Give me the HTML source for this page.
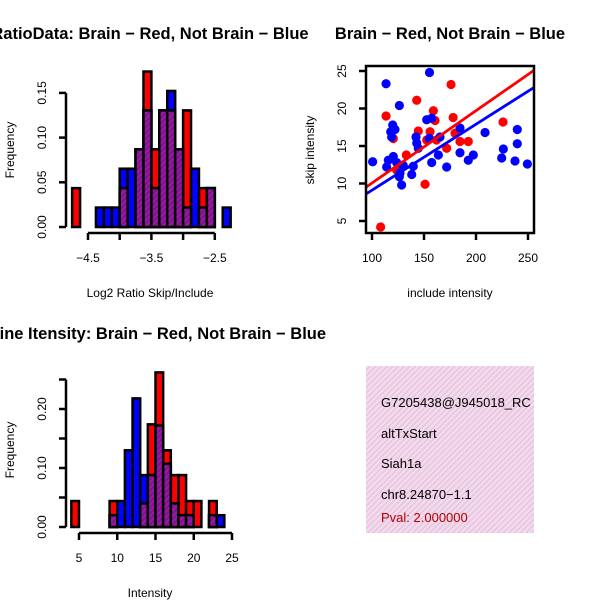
<!DOCTYPE html>
<html><head><meta charset="utf-8"><style>
html,body{margin:0;padding:0;background:#fff;width:600px;height:600px;overflow:hidden}
svg{display:block;font-family:"Liberation Sans",sans-serif}
</style></head><body>
<svg id="s" width="600" height="600">
<defs>
<pattern id="hatch" width="4" height="4" patternUnits="userSpaceOnUse" patternTransform="rotate(45)">
<rect width="4" height="4" fill="#9a1aa6"/><rect width="2" height="4" fill="#7a1488"/>
</pattern>
<pattern id="pink" width="4" height="4" patternUnits="userSpaceOnUse" patternTransform="rotate(45)">
<rect width="4" height="4" fill="#f6d8f0"/><rect width="1.4" height="4" fill="#e0c8d8"/>
</pattern>
<clipPath id="scClip"><rect x="366" y="66" width="168" height="167"/></clipPath>
<clipPath id="txClip"><rect x="366" y="366" width="168" height="167"/></clipPath>
</defs>
<g id="h1"></g>
<g id="h2"></g>
<g id="sc"></g>
<g>
<rect x="366" y="366" width="168" height="167" fill="url(#pink)"/>
<g clip-path="url(#txClip)" font-size="13">
<text x="381" y="407">G7205438@J945018_RC</text>
<text x="381" y="438">altTxStart</text>
<text x="381" y="468">Siah1a</text>
<text x="381" y="499">chr8.24870−1.1</text>
<text x="381" y="522" fill="#b00000">Pval: 2.000000</text>
</g></g>
</svg>
<script>
// ---- Histogram 1 data (Log2 ratio) ----
const h1Start = -4.75, h1Width = 0.125;
const h1Red  = [2,0,0,0,0,0,2,0,4,8,4,6,6,4,6,0,2,2,0,0];
const h1Blue = [0,0,0,1,1,1,3,3,4,6,2,6,7,4,1,3,1,2,0,1];
const h1N = 46;
const h1XTicks = [-4.5,-4,-3.5,-3,-2.5];
const h1XLabels = ["-4.5","-3.5","-2.5"];
const h1YTicks = [0,0.05,0.10,0.15];
const h1YLabels = ["0.00","0.05","0.10","0.15"];
// ---- Histogram 2 data (Intensity) ----
const h2Start = 4, h2Width = 1;
const h2Red  = [0.044,0,0,0,0,0.044,0,0,0,0.04,0.174,0.262,0.13,0.088,0.088,0.044,0.044,0,0.044,0];
const h2Blue = [0,0,0,0,0,0.02,0.044,0.13,0.218,0.088,0.088,0.172,0.107,0.04,0.02,0.02,0,0,0.02,0.02];
const h2XTicks = [5,10,15,20,25];
const h2XLabels = ["5","10","15","20","25"];
const h2YTicks = [0,0.05,0.10,0.15,0.20,0.25];
const h2YLabels = ["0.00","","0.10","","0.20",""];
// ---- Scatter data ----
const redX = [108.3,113.5,120.5,143,176,159,160.6,178,144.5,155.8,151,133,171.8,184.6,192.6,179.8,226,162,123.7,152.6];
const redY = [4.2,19.0,16.0,21.1,23.2,19.7,18.4,18.8,17.0,16.9,9.9,13.8,14.7,15.6,15.6,16.7,18.2,15.8,11.8,15.8];
const blueX = [155.3,113.5,126.3,119.9,118,118.9,122.1,142.3,143,144.5,152.6,157.4,155.1,165.4,184.6,208.7,239.7,239.7,226.3,224.7,237.5,249.4,197.4,192.6,184.6,171.8,163.8,157.4,139.7,138.2,128.5,126.3,115.7,114.1,120.5,100.6,130.1,123.7,126.9];
const blueY = [24.8,23.3,20.4,17.8,16.9,16.2,17.2,16.2,15.4,14.7,18.5,18.7,16.0,16.2,17.4,16.8,17.2,15.3,14.6,13.4,13.0,12.6,13.8,13.1,14.1,12.2,13.8,12.8,12.3,11.2,9.8,10.9,13.1,12.2,13.6,12.9,12.4,12.8,11.4];
const fitRed = [0.41, 0.0965];
const fitBlue = [0.32, 0.0879];
const scXTicks = [100,150,200,250];
const scYTicks = [5,10,15,20,25];

const NS="http://www.w3.org/2000/svg";
function mk(parent,tag,attrs,txt){const e=document.createElementNS(NS,tag);for(const k in attrs)e.setAttribute(k,attrs[k]);if(txt!==undefined)e.textContent=txt;parent.appendChild(e);return e;}

function hist(g,start,w,red,blue,xs,ys,xTicks,xLabels,yTicks,yLabels,xAxisY,title,xlab,titleY,xlabY,fY){
  const bars=(arr,fill,name)=>arr.forEach((v,i)=>{if(v<=0)return;
    const x0=xs(start+i*w),x1=xs(start+(i+1)*w);
    const r=mk(g,'rect',{x:x0,y:ys(v),width:x1-x0,height:ys(0)-ys(v),fill:fill,stroke:'#000','stroke-width':2.5});
    
    });
  bars(red,'#ff0000','bar-red');
  bars(blue,'#0000ff','bar-blue');
  bars(red.map((v,i)=>Math.min(v,blue[i])),'url(#hatch)','bar-overlap');
  const xa=mk(g,'line',{x1:xs(xTicks[0]),x2:xs(xTicks[xTicks.length-1]),y1:xAxisY,y2:xAxisY,stroke:'#000','stroke-width':2.5});
  
  xTicks.forEach(t=>{mk(g,'line',{x1:xs(t),x2:xs(t),y1:xAxisY,y2:xAxisY+7,stroke:'#000','stroke-width':2.5});});
  xLabels.forEach(l=>{const t=mk(g,'text',{x:xs(parseFloat(l)),y:xAxisY+29,'font-size':12,'text-anchor':'middle'},l.replace('-','−'));
    });
  const yx=66;
  const ya=mk(g,'line',{x1:yx,x2:yx,y1:ys(yTicks[0]),y2:ys(yTicks[yTicks.length-1]),stroke:'#000','stroke-width':2.5});
  
  yTicks.forEach((t,i)=>{mk(g,'line',{x1:yx-7,x2:yx,y1:ys(t),y2:ys(t),stroke:'#000','stroke-width':2.5});
    if(yLabels[i]){const tx=mk(g,'text',{x:46,y:ys(t),'font-size':12,'text-anchor':'middle',transform:`rotate(-90 46 ${ys(t)})`},yLabels[i]);
    }});
  const ti=mk(g,'text',{x:150,y:titleY,'font-size':16.5,'font-weight':'bold','text-anchor':'middle'},title);
  
  const xl=mk(g,'text',{x:150,y:xlabY,'font-size':12,'text-anchor':'middle'},xlab);
  
  const yl=mk(g,'text',{x:14,y:fY,'font-size':12,'text-anchor':'middle',transform:`rotate(-90 14 ${fY})`},'Frequency');
  
}
const x1s=v=>88+(v+4.5)*63.4, y1s=v=>227-v*894;
hist(document.getElementById('h1'),h1Start,h1Width,h1Red.map(c=>c/h1N),h1Blue.map(c=>c/h1N),x1s,y1s,h1XTicks,h1XLabels,h1YTicks,h1YLabels,233,
 'RatioData: Brain − Red, Not Brain − Blue','Log2 Ratio Skip/Include',39,297,150);
const x2s=v=>79+(v-5)*7.65, y2s=v=>527-v*590;
hist(document.getElementById('h2'),h2Start,h2Width,h2Red,h2Blue,x2s,y2s,h2XTicks,h2XLabels,h2YTicks,h2YLabels,533,
 'Spline Itensity: Brain − Red, Not Brain − Blue','Intensity',339,597,450);

const sg=document.getElementById('sc');
const sx=v=>372+(v-100)*1.04, sy=v=>221-(v-5)*7.5;
const cg=mk(sg,'g',{'clip-path':'url(#scClip)'});
redX.forEach((x,i)=>{const c=mk(cg,'circle',{cx:sx(x),cy:sy(redY[i]),r:4.6,fill:'#ff0000'});
  });
blueX.forEach((x,i)=>{const c=mk(cg,'circle',{cx:sx(x),cy:sy(blueY[i]),r:4.6,fill:'#0000ff'});
  });
[[fitRed,'#ff0000','fit-line-red'],[fitBlue,'#0000ff','fit-line-blue']].forEach(([f,col,nm])=>{
  const xa=90,xb=260;
  const l=mk(cg,'line',{x1:sx(xa),y1:sy(f[0]+f[1]*xa),x2:sx(xb),y2:sy(f[0]+f[1]*xb),stroke:col,'stroke-width':2.8});
  });
const box=mk(sg,'rect',{x:366,y:66,width:168,height:167,fill:'none',stroke:'#000','stroke-width':2.5});

scXTicks.forEach(t=>{mk(sg,'line',{x1:sx(t),x2:sx(t),y1:233,y2:240,stroke:'#000','stroke-width':2.5});
  const tx=mk(sg,'text',{x:sx(t),y:262,'font-size':12,'text-anchor':'middle'},t);
  });
scYTicks.forEach(t=>{mk(sg,'line',{x1:359,x2:366,y1:sy(t),y2:sy(t),stroke:'#000','stroke-width':2.5});
  const tx=mk(sg,'text',{x:346,y:sy(t),'font-size':12,'text-anchor':'middle',transform:`rotate(-90 346 ${sy(t)})`},t);
  });
const st=mk(sg,'text',{x:450,y:39,'font-size':16.5,'font-weight':'bold','text-anchor':'middle'},'Brain − Red, Not Brain − Blue');

const sxl=mk(sg,'text',{x:450,y:297,'font-size':12,'text-anchor':'middle'},'include intensity');

const syl=mk(sg,'text',{x:314,y:150,'font-size':12,'text-anchor':'middle',transform:'rotate(-90 314 150)'},'skip intensity');

</script>
</body></html>
